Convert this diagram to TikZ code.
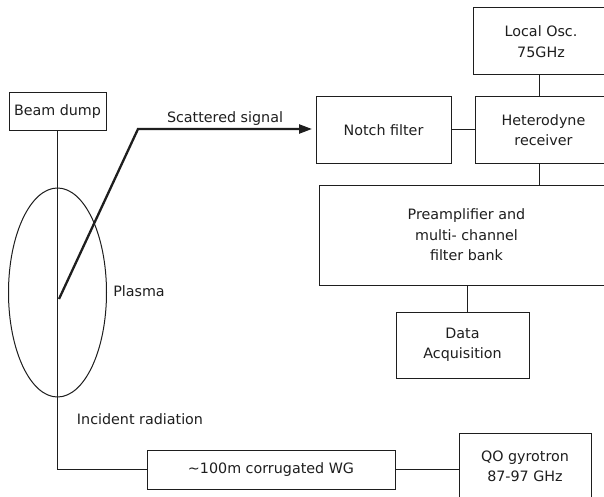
\documentclass[tikz,border=0pt]{standalone}
\usepackage{fontspec}
\setmainfont{DejaVu Sans}
\usetikzlibrary{shapes.geometric,arrows.meta,calc}
\definecolor{ink}{HTML}{1E1E1E}
\tikzset{
  box/.style={draw=ink, line width=1pt, rectangle, inner sep=0pt, align=center, text=ink,
              font=\fontsize{14.3}{20.5}\selectfont},
  lbl/.style={inner sep=0pt, text=ink, font=\fontsize{14.3}{20.5}\selectfont},
  conn/.style={draw=ink, line width=1pt},
  beam/.style={draw=ink, line width=2.3pt, line join=miter},
}
\begin{document}
\begin{tikzpicture}[x=1pt,y=-1pt]
\useasboundingbox (0,0) rectangle (604,497);
\clip (0,0) rectangle (604,497);
\fill[white] (0,0) rectangle (604,497);

% boxes
\node[box, minimum width=97pt, minimum height=38pt] (bd) at (57.5,112) {Beam dump};
\node[box, minimum width=136pt, minimum height=67pt] (lo) at (541,41.5) {Local Osc.\\75GHz};
\node[box, minimum width=137pt, minimum height=66pt] (het) at (543.5,130) {Heterodyne\\receiver};
\node[box, minimum width=135pt, minimum height=66pt] (notch) at (383.5,130) {Notch filter};
\node[box, minimum width=295pt, minimum height=100pt] (pre) at (466.5,235) {Preamplifier and\\multi- channel\\filter bank};
\node[box, minimum width=133pt, minimum height=66pt] (daq) at (462.5,345) {Data\\Acquisition};
\node[box, minimum width=248pt, minimum height=39pt] (wg) at (271,469.5) {{\char`\~}100m corrugated WG};
\node[box, minimum width=132pt, minimum height=67pt] (qo) at (525,466.5) {QO gyrotron\\87-97 GHz};

% plasma
\node[draw=ink, line width=1pt, ellipse, inner sep=0pt, minimum width=98pt, minimum height=209pt] (plasma) at (57.5,292.5) {};

% labels
\node[lbl] (tplasma) at (139,291) {Plasma};
\node[lbl] (tinc) at (140,419) {Incident radiation};
\node[lbl] (tscat) at (225,119) {Scattered signal};

% helper coordinates
\coordinate (xlo) at (539,0);
\coordinate (xdaq) at (467,0);
\coordinate (sA) at (59,299);
\coordinate (sB) at (138,129);
\coordinate (sC) at (312,129);

% connectors
\draw[conn] (lo.south -| xlo) -- (het.north -| xlo);
\draw[conn] (het.south -| xlo) -- (pre.north -| xlo);
\draw[conn] (notch.east) -- (het.west);
\draw[conn] (pre.south -| xdaq) -- (daq.north -| xdaq);
\draw[conn] (wg.east) -- (qo.west |- wg.east);
\draw[conn] (bd.south) -- (bd.south |- wg.west) -- (wg.west);

% scattered beam
\draw[beam, -{Triangle[length=13pt,width=9pt]}] (sA) -- (sB) -- (sC);
\end{tikzpicture}
\end{document}
